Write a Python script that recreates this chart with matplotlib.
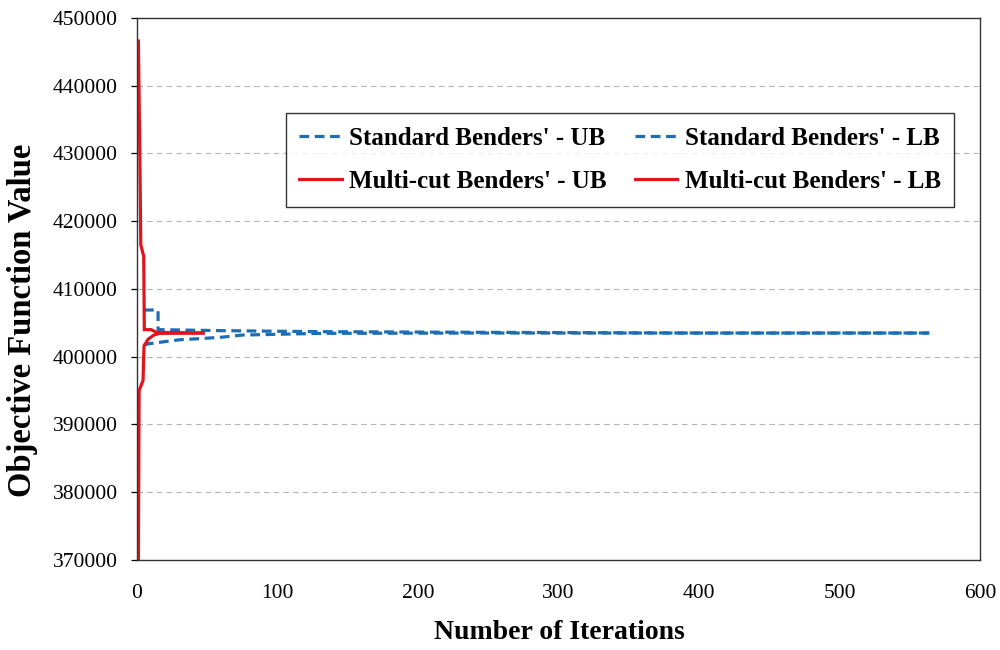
import matplotlib
matplotlib.use("Agg")
import matplotlib.pyplot as plt

# ---- data ----
std_ub_iter = [5, 15, 15, 30, 60, 130, 250, 400, 564]
std_ub_val = [406900, 406900, 404000, 403950, 403850, 403700, 403600, 403500, 403500]

std_lb_iter = [5, 8, 15, 30, 47, 61, 75, 130, 250, 564]
std_lb_val = [401700, 401900, 402100, 402500, 402700, 402900, 403200, 403450, 403500, 403500]

mc_ub_iter = [1, 2, 2.7, 4.8, 5.2, 10, 14, 47]
mc_ub_val = [446600, 430000, 416500, 414800, 404000, 404000, 403600, 403500]

mc_lb_iter = [1, 1.5, 4.3, 5, 8, 12, 16, 47]
mc_lb_val = [370000, 395000, 396500, 401600, 402600, 403200, 403450, 403500]

series_labels = ["Standard Benders' - UB", "Standard Benders' - LB",
                 "Multi-cut Benders' - UB", "Multi-cut Benders' - LB"]
x_ticks = [0, 100, 200, 300, 400, 500, 600]
y_ticks = [370000, 380000, 390000, 400000, 410000, 420000, 430000, 440000, 450000]

BLUE = "#1c6db3"
RED = "#e0141c"
SERIF = ["Liberation Serif", "DejaVu Serif"]

plt.rcParams["lines.scale_dashes"] = False

fig = plt.figure(figsize=(10, 6.5), dpi=100)
ax = fig.add_axes([0.137, 0.1385, 0.843, 0.8338])

dash = (7.0, 4.0)
l1, = ax.plot(std_ub_iter, std_ub_val, color=BLUE, lw=2.3, dashes=dash)
l2, = ax.plot(std_lb_iter, std_lb_val, color=BLUE, lw=2.3, dashes=dash)
l3, = ax.plot(mc_ub_iter, mc_ub_val, color=RED, lw=2.3, solid_joinstyle="miter")
l4, = ax.plot(mc_lb_iter, mc_lb_val, color=RED, lw=2.3, solid_joinstyle="miter")

ax.set_xlim(0, 600)
ax.set_ylim(370000, 450000)
ax.set_xticks(x_ticks)
ax.set_yticks(y_ticks)
ax.set_xticklabels([str(v) for v in x_ticks], family=SERIF, fontsize=15.5)
ax.set_yticklabels([str(v) for v in y_ticks], family=SERIF, fontsize=15.5)
ax.tick_params(axis="x", length=0, pad=17)
ax.tick_params(axis="y", direction="out", length=4, width=0.9, pad=10)

ax.yaxis.grid(True, color="#b5b5b5", lw=0.8, dashes=(4, 3))
ax.set_axisbelow(True)
for s in ax.spines.values():
    s.set_color("#333333")
    s.set_linewidth(1.0)

ax.set_xlabel("Number of Iterations", family=SERIF, fontweight="bold",
              fontsize=20, va="center")
ax.xaxis.set_label_coords(0.5006, -0.1347)
ax.set_ylabel("Objective Function Value", family=SERIF, fontweight="bold",
              fontsize=23.5, va="center")
ax.yaxis.set_label_coords(-0.1364, 0.443)

handles = [l1, l3, l2, l4]
labels = [series_labels[0], series_labels[2], series_labels[1], series_labels[3]]
leg = ax.legend(handles, labels, ncol=2, loc="center",
                bbox_to_anchor=(0.573, 0.738),
                prop={"family": SERIF, "weight": "bold", "size": 18},
                frameon=True, fancybox=False, edgecolor="black",
                handlelength=1.7, handletextpad=0.3, columnspacing=1.1,
                labelspacing=0.8, borderpad=0.55)
leg.get_frame().set_linewidth(1.0)

fig.savefig("out.png", dpi=100, facecolor="white")
